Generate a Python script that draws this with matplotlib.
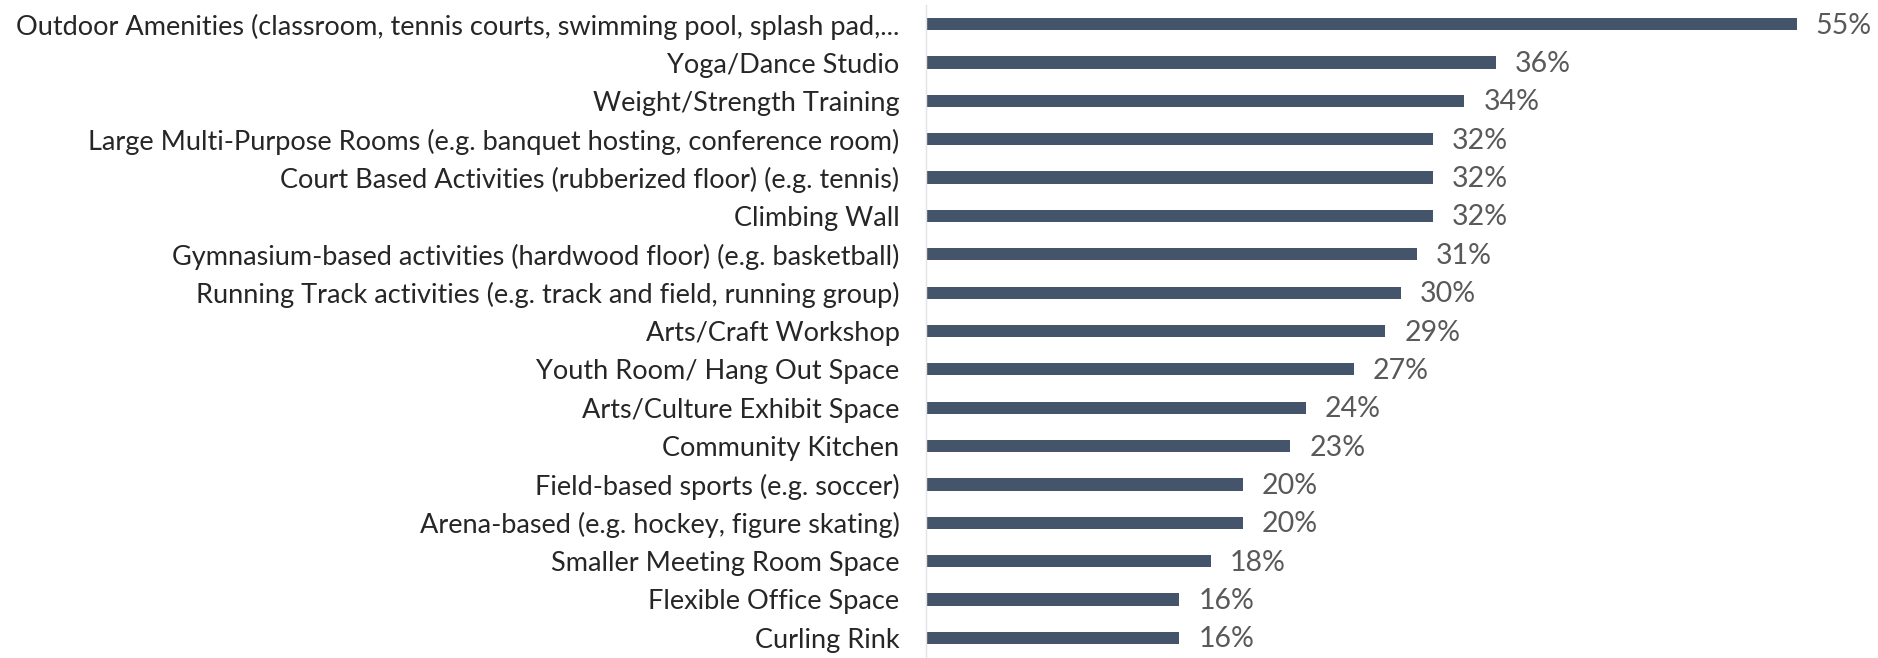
import matplotlib.pyplot as plt

plt.rcParams['font.family'] = ['Lato', 'DejaVu Sans']

categories = [
    "Outdoor Amenities (classroom, tennis courts, swimming pool, splash pad,...",
    "Yoga/Dance Studio",
    "Weight/Strength Training",
    "Large Multi-Purpose Rooms (e.g. banquet hosting, conference room)",
    "Court Based Activities (rubberized floor) (e.g. tennis)",
    "Climbing Wall",
    "Gymnasium-based activities (hardwood floor) (e.g. basketball)",
    "Running Track activities (e.g. track and field, running group)",
    "Arts/Craft Workshop",
    "Youth Room/ Hang Out Space",
    "Arts/Culture Exhibit Space",
    "Community Kitchen",
    "Field-based sports (e.g. soccer)",
    "Arena-based (e.g. hockey, figure skating)",
    "Smaller Meeting Room Space",
    "Flexible Office Space",
    "Curling Rink",
]
values = [55, 36, 34, 32, 32, 32, 31, 30, 29, 27, 24, 23, 20, 20, 18, 16, 16]

bar_color = "#44546a"

fig = plt.figure(figsize=(18.78, 6.58), dpi=100)
ax = fig.add_axes([926 / 1878, 1 / 658, 950 / 1878, 652 / 658])

y = list(range(len(categories)))
ax.barh(y, values, height=0.32, color=bar_color)
ax.set_ylim(len(categories) - 0.5, -0.5)
ax.set_xlim(0, 60)

for yi, v in zip(y, values):
    ax.text(v + 1.2, yi + 0.04, f"{v}%", va="center", ha="left",
            fontsize=20.5, color="#595959")

ax.set_yticks(y)
ax.set_yticklabels(categories, fontsize=19.5, color="#262626")
ax.tick_params(axis="y", length=0, pad=19)
ax.set_xticks([])

for side in ["top", "right", "bottom"]:
    ax.spines[side].set_visible(False)
ax.spines["left"].set_color("#e3e3e3")
ax.spines["left"].set_linewidth(1)

fig.savefig("out.png", dpi=100)
